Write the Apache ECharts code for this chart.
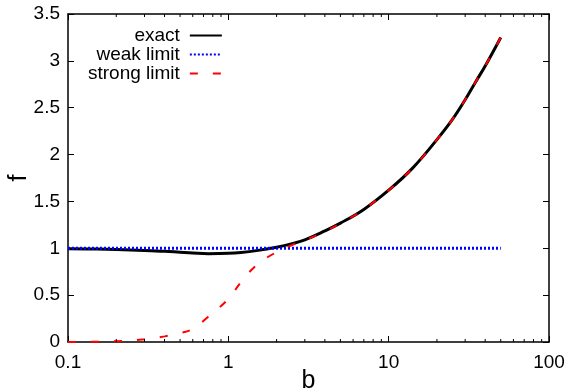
<!DOCTYPE html>
<html>
<head>
<meta charset="utf-8">
<script src="https://cdn.jsdelivr.net/npm/echarts@6/dist/echarts.min.js"></script>
<style>html,body{margin:0;padding:0;background:#fff}#c{width:571px;height:392px}</style>
</head>
<body>
<div id="c"></div>
<script>
var bValues = [0.1, 0.15, 0.2, 0.3, 0.4, 0.5, 0.6, 0.75, 1, 1.2, 1.5, 2, 2.5, 3, 4, 5, 7, 10, 14, 20, 25, 30, 35, 40, 50];
var exactValues = [0.995, 0.992, 0.987, 0.977, 0.968, 0.958, 0.95, 0.943, 0.946, 0.955, 0.975, 1.012, 1.05, 1.09, 1.185, 1.268, 1.415, 1.62, 1.85, 2.16, 2.375, 2.585, 2.78, 2.945, 3.25];
var weakValues = [1, 1, 1, 1, 1, 1, 1, 1, 1, 1, 1, 1, 1, 1, 1, 1, 1, 1, 1, 1, 1, 1, 1, 1, 1];
var strongValues = [0, 0.003, 0.008, 0.03, 0.06, 0.095, 0.14, 0.27, 0.46, 0.64, 0.82, 0.96, 1.035, 1.085, 1.18, 1.265, 1.415, 1.62, 1.85, 2.16, 2.375, 2.585, 2.78, 2.945, 3.25];
var seriesNames = ['exact', 'weak limit', 'strong limit'];
var minorTickValues = [0.2,0.3,0.4,0.5,0.6,0.7,0.8,0.9,2,3,4,5,6,7,8,9,20,30,40,50,60,70,80,90];

function pairs(ys){ return bValues.map(function(b,i){ return [b, ys[i]]; }); }

var FONT = 'Liberation Sans, Arial, sans-serif';
var chart = echarts.init(document.getElementById('c'), null, {renderer:'canvas'});
var xBase = {
  type:'log', logBase:10, min:0.1, max:100,
  axisLine:{show:true, onZero:false, lineStyle:{color:'#000', width:1.5}},
  axisTick:{show:true, inside:true, length:6, lineStyle:{color:'#000', width:1}},
  splitLine:{show:false}
};
var yBase = {
  type:'value', min:0, max:3.5, interval:0.5,
  axisLine:{show:true, onZero:false, lineStyle:{color:'#000', width:1.5}},
  axisTick:{show:true, inside:true, length:6, lineStyle:{color:'#000', width:1}},
  splitLine:{show:false}
};
var option = {
  animation:false,
  grid:{left:68, right:22, top:14, bottom:50, show:false, containLabel:false, outerBoundsMode:'none'},
  legend:{
    data:seriesNames, orient:'vertical', align:'right', left:88, top:26, padding:0,
    itemWidth:32, itemHeight:14, itemGap:0,
    itemStyle:{color:'transparent', borderColor:'transparent', borderWidth:0, opacity:0},
    textStyle:{fontFamily:FONT, fontSize:19, color:'#000', lineHeight:19, padding:[0,5,0,0]}
  },
  xAxis:[
    Object.assign({}, xBase, {position:'bottom',
      name:'b', nameLocation:'middle', nameGap:27, nameMoveOverlap:false,
      nameTextStyle:{fontFamily:FONT, fontSize:25, color:'#000'},
      axisLabel:{fontFamily:FONT, fontSize:19, color:'#000', margin:11}}),
    Object.assign({}, xBase, {position:'top', axisLabel:{show:false}})
  ],
  yAxis:[
    Object.assign({}, yBase, {position:'left',
      name:'f', nameLocation:'middle', nameGap:36, nameRotate:90, nameMoveOverlap:false,
      nameTextStyle:{fontFamily:FONT, fontSize:25, color:'#000'},
      axisLabel:{fontFamily:FONT, fontSize:19, color:'#000', margin:8}}),
    Object.assign({}, yBase, {position:'right', axisLabel:{show:false}})
  ],
  series:[
    {name:'exact', type:'line', data:pairs(exactValues), smooth:0.4, symbol:'none',
     lineStyle:{color:'#000', width:3}, itemStyle:{color:'#000'}, z:2},
    {name:'weak limit', type:'line', data:pairs(weakValues), symbol:'none',
     lineStyle:{color:'#0000ff', width:3, type:[2,2], cap:'butt'}, itemStyle:{color:'#0000ff'}, z:3},
    {name:'strong limit', type:'line', data:pairs(strongValues), smooth:0.4, symbol:'none',
     lineStyle:{color:'#ff0000', width:2, type:[8,15], cap:'butt'}, itemStyle:{color:'#ff0000'}, z:4},
    {name:'minorTicks', type:'custom', silent:true, z:5,
     data:minorTickValues.map(function(v){ return [v, 1]; }),
     encode:{x:0, y:1},
     renderItem:function(params, api){
       var cs = params.coordSys;
       var x = api.coord([api.value(0), 1])[0];
       var top = cs.y, bot = cs.y + cs.height;
       return {type:'group', children:[
         {type:'line', shape:{x1:x, y1:bot, x2:x, y2:bot-3}, style:{stroke:'#000', lineWidth:1}},
         {type:'line', shape:{x1:x, y1:top, x2:x, y2:top+3}, style:{stroke:'#000', lineWidth:1}}
       ]};
     }}
  ]
};
chart.setOption(option);
</script>
</body>
</html>
